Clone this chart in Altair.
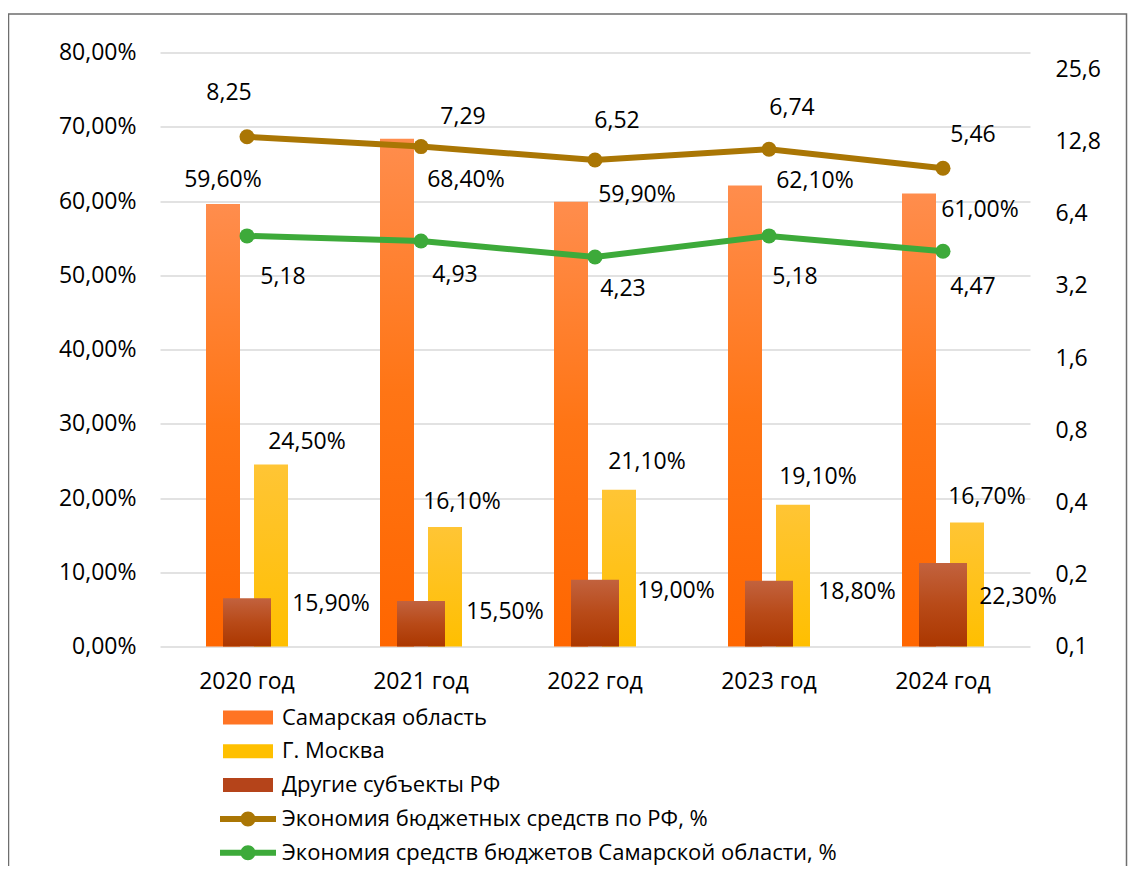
import altair as alt
import pandas as pd

# ---- data ----
years = ["2020 год", "2021 год", "2022 год", "2023 год", "2024 год"]
samara = [59.6, 68.4, 59.9, 62.1, 61.0]          # Самарская область, %
moscow = [24.5, 16.1, 21.1, 19.1, 16.7]          # Г. Москва, %
other = [15.9, 15.5, 19.0, 18.8, 22.3]           # Другие субъекты РФ, % (plotted on secondary axis as fraction)
econ_rf = [8.25, 7.29, 6.52, 6.74, 5.46]         # Экономия бюджетных средств по РФ, % (stacked line)
econ_sam = [5.18, 4.93, 4.23, 5.18, 4.47]        # Экономия средств бюджетов Самарской области, %

series_names = ["Самарская область", "Г. Москва", "Другие субъекты РФ",
                "Экономия бюджетных средств по РФ, %",
                "Экономия средств бюджетов Самарской области, %"]

left_ticks = [0, 10, 20, 30, 40, 50, 60, 70, 80]
right_ticks = [0.1, 0.2, 0.4, 0.8, 1.6, 3.2, 6.4, 12.8, 25.6]

# label placement offsets (pixels) as dragged in the original
sam_dx = [-24, 45, 42, 46, 37]; sam_dy = [-24, 41, -7, -4, 16]
mos_dx = [60, 41, 52, 49, 44];  mos_dy = [-23, -25, -28, -28, -26]
oth_dx = [84, 84, 81, 88, 75];  oth_dy = [6, 11, 11, 11, 34]
rf_dx = [-18, 42, 22, 23, 30];  rf_dy = [-44, -30, -39, -41, -33]
se_dx = [36, 34, 28, 26, 30];   se_dy = [41, 34, 32, 41, 36]

df = pd.DataFrame({
    "year": years, "samara": samara, "moscow": moscow, "other": other,
    "econ_rf": econ_rf, "econ_sam": econ_sam,
    "sam_dx": sam_dx, "sam_dy": sam_dy, "mos_dx": mos_dx, "mos_dy": mos_dy,
    "oth_dx": oth_dx, "oth_dy": oth_dy, "rf_dx": rf_dx, "rf_dy": rf_dy,
    "se_dx": se_dx, "se_dy": se_dy,
})

FONT = "Open Sans"
C_RF = "#AA7604"
C_SE = "#3DAA3A"

x_enc = alt.X("year:N", sort=years,
              scale=alt.Scale(paddingInner=0, paddingOuter=0),
              axis=alt.Axis(title=None, labelAngle=0, domain=False, ticks=False,
                            labelPadding=24, labelFontSize=23))

lin_scale = alt.Scale(domain=[0, 80], nice=False, zero=True)
log_scale = alt.Scale(type="log", base=2, domain=[0.1, 30.2], nice=False)

left_axis = alt.Axis(title=None, values=left_ticks, grid=True, gridColor="#D9D9D9",
                     gridWidth=1.5, domain=False, ticks=False, labelPadding=24,
                     labelFontSize=23, orient="left",
                     labelExpr="replace(format(datum.value, '.2f'), '.', ',') + '%'")
right_axis = alt.Axis(orient="right", title=None, values=right_ticks, grid=False,
                      domain=False, ticks=False, labelPadding=25, labelFontSize=23,
                      labelExpr="replace(format(datum.value, '.1f'), '.', ',')")


def grad(stops):
    return alt.Gradient(gradient="linear",
                        stops=[alt.GradientStop(color=c, offset=o) for o, c in stops],
                        x1=0, x2=0, y1=0, y2=1)


def label_mark(dxf, dyf):
    return dict(font=FONT, fontSize=23, color="black", align="center", baseline="middle",
                dx=alt.ExprRef(expr=f"datum.{dxf}"), dy=alt.ExprRef(expr=f"datum.{dyf}"))


pct_expr = "replace(format(datum.{f}, '.2f'), '.', ',') + '%'"
num_expr = "replace(format(datum.{f}, '.2f'), '.', ',')"

# frame around the whole chart (decoration)
frame = alt.Chart(pd.DataFrame({"a": [0]})).mark_rect(
    fill="transparent", stroke="#6E6E6E", strokeWidth=1.5
).encode(x=alt.value(-151.5), x2=alt.value(966.5), y=alt.value(-38.5), y2=alt.value(840))

sam_bar = alt.Chart().mark_bar(
    width=34, xOffset=-24,
    color=grad([(0, "#FF8D4D"), (0.5, "#FF7515"), (1, "#FF6600")])
).encode(x=x_enc, y=alt.Y("samara:Q", scale=lin_scale, axis=left_axis))
mos_bar = alt.Chart().mark_bar(
    width=34, xOffset=24,
    color=grad([(0, "#FFC535"), (1, "#FFBF00")])
).encode(x=x_enc, y=alt.Y("moscow:Q", scale=lin_scale, axis=left_axis))

sam_txt = alt.Chart().transform_calculate(
    lbl=pct_expr.format(f="samara")
).mark_text(**label_mark("sam_dx", "sam_dy")).encode(
    x=x_enc, y=alt.Y("samara:Q", scale=lin_scale, axis=left_axis), text="lbl:N")
mos_txt = alt.Chart().transform_calculate(
    lbl=pct_expr.format(f="moscow")
).mark_text(**label_mark("mos_dx", "mos_dy")).encode(
    x=x_enc, y=alt.Y("moscow:Q", scale=lin_scale, axis=left_axis), text="lbl:N")

left = alt.layer(sam_bar, mos_bar, sam_txt, mos_txt, frame)

oth_bar = alt.Chart().transform_calculate(
    frac="datum.other / 100", base="0.1"
).mark_bar(
    width=48, color=grad([(0, "#C2623E"), (0.5, "#B84A18"), (1, "#AB3700")])
).encode(x=x_enc, y=alt.Y("frac:Q", scale=log_scale, axis=right_axis), y2="base:Q")
oth_txt = alt.Chart().transform_calculate(
    frac="datum.other / 100", lbl=pct_expr.format(f="other")
).mark_text(**label_mark("oth_dx", "oth_dy")).encode(
    x=x_enc, y=alt.Y("frac:Q", scale=log_scale, axis=right_axis), text="lbl:N")

rf_base = alt.Chart().transform_calculate(
    stack="datum.econ_rf + datum.econ_sam", lbl=num_expr.format(f="econ_rf")
)
rf_y = alt.Y("stack:Q", scale=log_scale, axis=right_axis)
rf_line = rf_base.mark_line(color=C_RF, strokeWidth=6).encode(x=x_enc, y=rf_y)
rf_pt = rf_base.mark_point(filled=True, color=C_RF, size=225, opacity=1).encode(x=x_enc, y=rf_y)
rf_txt = rf_base.mark_text(**label_mark("rf_dx", "rf_dy")).encode(x=x_enc, y=rf_y, text="lbl:N")

se_base = alt.Chart().transform_calculate(lbl=num_expr.format(f="econ_sam"))
se_y = alt.Y("econ_sam:Q", scale=log_scale, axis=right_axis)
se_line = se_base.mark_line(color=C_SE, strokeWidth=6).encode(x=x_enc, y=se_y)
se_pt = se_base.mark_point(filled=True, color=C_SE, size=225, opacity=1).encode(x=x_enc, y=se_y)
se_txt = se_base.mark_text(**label_mark("se_dx", "se_dy")).encode(x=x_enc, y=se_y, text="lbl:N")

# legend (custom symbols: wide swatches for bars, line+dot for lines)
bar_sym = "M-2.5,-0.7H2.5V0.7H-2.5Z"
line_sym = ("M-2.8,-0.3H2.8V0.3H-2.8Z "
            "M-0.75,0A0.75,0.75,0,1,1,0.75,0A0.75,0.75,0,1,1,-0.75,0Z")
leg = alt.Legend(title=None, orient="none", legendX=77, legendY=654, direction="vertical",
                 symbolSize=400, symbolStrokeWidth=0, symbolOpacity=1, labelFont=FONT,
                 labelFontSize=22, labelColor="black", labelOffset=23, rowPadding=11.8,
                 labelLimit=0)
legend_layer = alt.Chart(pd.DataFrame({"series": series_names})).mark_point(
    filled=True, opacity=0
).encode(
    color=alt.Color("series:N", sort=series_names,
                    scale=alt.Scale(domain=series_names,
                                    range=["#FF7424", "#FFC000", "#B5441A", C_RF, C_SE]),
                    legend=leg),
    shape=alt.Shape("series:N", sort=series_names,
                    scale=alt.Scale(domain=series_names,
                                    range=[bar_sym, bar_sym, bar_sym, line_sym, line_sym]),
                    legend=leg),
)

right = alt.layer(oth_bar, oth_txt, rf_line, se_line, rf_pt, se_pt, rf_txt, se_txt, legend_layer)

chart = alt.layer(left, right, data=df).resolve_scale(y="independent").properties(
    width=870, height=594,
    autosize=alt.AutoSizeParams(type="none"),
    padding={"left": 152, "top": 44.5, "right": 98, "bottom": 219.5},
    background="white",
).configure_view(strokeWidth=0).configure_axis(
    labelFont=FONT, labelColor="black"
)

chart.save("out.html", embed_options={"renderer": "svg", "actions": False})
